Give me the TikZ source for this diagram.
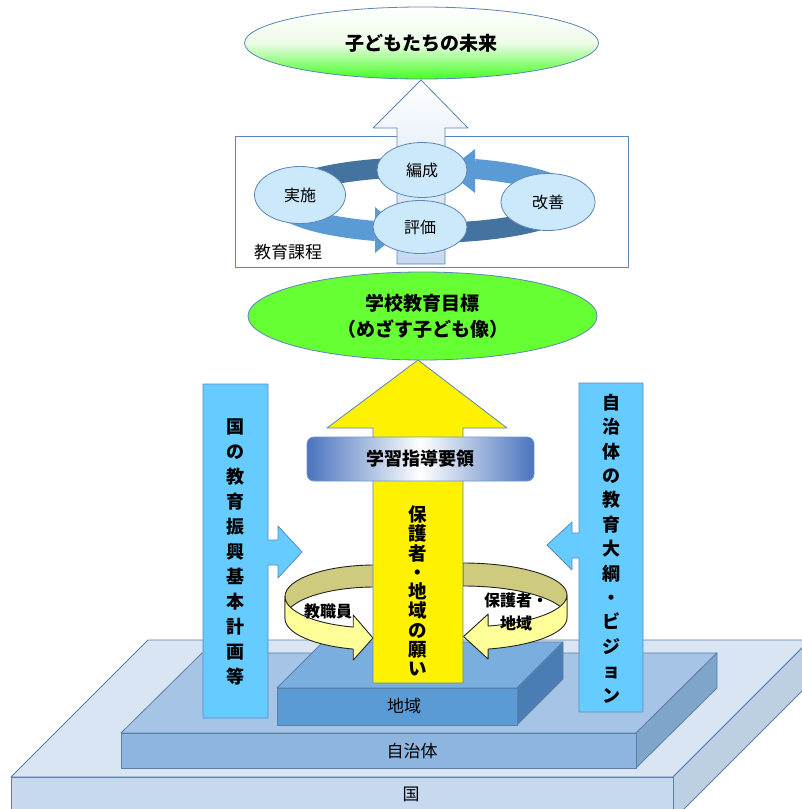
\documentclass[tikz,border=0pt]{standalone}
\usepackage{fontspec}
\setmainfont{Noto Sans CJK JP}
\usetikzlibrary{shapes.geometric}

\definecolor{edgeblue}{HTML}{5B85B8}
\definecolor{cyclefill}{HTML}{CCE8FB}
\definecolor{ringLight}{HTML}{5B9BD5}
\definecolor{ringDark}{HTML}{44739F}
\definecolor{shaftBlue}{HTML}{C5D9F1}
\definecolor{futureGreen}{HTML}{44FF22}
\definecolor{futureMid}{HTML}{EEFBE8}
\definecolor{goalGreen}{HTML}{66FF33}
\definecolor{sideBlue}{HTML}{66CCFF}
\definecolor{sideLine}{HTML}{5A8AC6}
\definecolor{guideBlue}{HTML}{4A74BE}
\definecolor{guideLine}{HTML}{7195CB}
\definecolor{ribBack}{HTML}{CFCB7E}
\definecolor{ribFront}{HTML}{FFFF99}
\definecolor{ribLine}{HTML}{222222}
\definecolor{kuniTop}{HTML}{D9E5F3}
\definecolor{kuniFront}{HTML}{C6D9EF}
\definecolor{kuniSide}{HTML}{BDCFE2}
\definecolor{jichiTop}{HTML}{A6C4E5}
\definecolor{jichiFront}{HTML}{8DB5DF}
\definecolor{jichiSide}{HTML}{7FA5CA}
\definecolor{chiikiTop}{HTML}{7AAEDF}
\definecolor{chiikiFront}{HTML}{5B9BD5}
\definecolor{chiikiSide}{HTML}{4A7DB3}
\definecolor{slabLine}{HTML}{5A7FA8}

\begin{document}
\begin{tikzpicture}[x=1pt,y=-1pt,line join=round,
  bord/.style={draw=edgeblue,line width=0.8pt},
  slab/.style={draw=slabLine,line width=0.8pt},
  rib/.style={draw=ribLine,line width=0.9pt},
  band/.style={line width=20pt},
  cyc/.style={ellipse,draw=edgeblue,line width=0.8pt,fill=cyclefill,inner sep=0pt,
              font=\fontsize{16}{16}\selectfont},
  lbl/.style={inner sep=0pt,font=\fontsize{17}{17}\selectfont},
  vtext/.style={align=center,inner sep=0pt,font=\bfseries\fontsize{18}{25}\selectfont}]
\useasboundingbox (0,0) rectangle (802,809);
\clip (0,0) rectangle (802,809);
\fill[white] (0,0) rectangle (802,809);

% --- stacked slabs: nation, municipality, community
\filldraw[slab,fill=kuniTop] (11,777) -- (148,640) -- (810,640) -- (673,777) -- cycle;
\filldraw[slab,fill=kuniSide] (673,777) -- (810,640) -- (810,683) -- (673,820) -- cycle;
\filldraw[slab,fill=kuniFront] (11,777) rectangle (673,820);
\node[lbl] (kuni) at (411,794) {国};

\filldraw[slab,fill=jichiTop] (121,733) -- (202,653) -- (717,653) -- (636,733) -- cycle;
\filldraw[slab,fill=jichiSide] (636,733) -- (717,653) -- (717,688) -- (636,768) -- cycle;
\filldraw[slab,fill=jichiFront] (121,733) rectangle (636,768);
\node[lbl] (jichi) at (412,751) {自治体};

\filldraw[slab,fill=chiikiTop] (277,688) -- (323,642) -- (563,642) -- (517,688) -- cycle;
\filldraw[slab,fill=chiikiSide] (517,688) -- (563,642) -- (563,679) -- (517,725) -- cycle;
\filldraw[slab,fill=chiikiFront] (277,688) rectangle (517,725);
\node[lbl] (chiiki) at (404,706) {地域};

% --- top goal
\node[ellipse,bord,minimum width=354,minimum height=72,
      top color=white,bottom color=futureGreen,middle color=futureMid,
      font=\bfseries\fontsize{19}{19}\selectfont] (future) at (421.5,43) {子どもたちの未来};

% --- curriculum box and the arrow through it
\draw[bord] (235,136) rectangle (628,267);
\path[bord,top color=white,bottom color=shaftBlue]
  (421,80) -- (468,128) -- (445,128) -- (445,264) -- (397,264) -- (397,128) -- (373,128) -- cycle;

% --- PDCA ring
\begin{scope}[shift={(425,200)}]
  \draw[band,draw=ringDark] (-95:145 and 33) arc[start angle=-95,end angle=-170,x radius=145,y radius=33];
  \draw[band,draw=ringDark] (80:145 and 33) arc[start angle=80,end angle=15,x radius=145,y radius=33];
  \draw[band,draw=ringLight] (160:145 and 33) arc[start angle=160,end angle=110,x radius=145,y radius=33];
  \draw[band,draw=ringLight] (-20:145 and 33) arc[start angle=-20,end angle=-70,x radius=145,y radius=33];
\end{scope}
\fill[ringLight] (375,207) -- (403,230) -- (375,253) -- cycle;
\fill[ringLight] (475,149) -- (447,171) -- (475,193) -- cycle;

\node[cyc,minimum width=91,minimum height=57] (jisshi) at (300,195) {実施};
\node[cyc,minimum width=90,minimum height=55] (hensei) at (422,170) {編成};
\node[cyc,minimum width=94,minimum height=53] (hyouka) at (420,227) {評価};
\node[cyc,minimum width=94,minimum height=57] (kaizen) at (548,202) {改善};
\node[lbl] (course) at (288,252) {教育課程};

% --- school goal
\node[ellipse,bord,fill=goalGreen,minimum width=349,minimum height=88,align=center,
      font=\bfseries\fontsize{19}{26}\selectfont] (goal) at (422.5,316)
      {学校教育目標\\（めざす子ども像）};

% --- side block arrows
\filldraw[draw=sideLine,line width=0.8pt,fill=sideBlue]
  (203,384) -- (268,384) -- (268,540) -- (278,540) -- (278,526) -- (302,552)
  -- (278,578) -- (278,565) -- (268,565) -- (268,718) -- (203,718) -- cycle;
\node[vtext] (national) at (235,552)
  {国\\の\\教\\育\\振\\興\\基\\本\\計\\画\\等};

\filldraw[draw=sideLine,line width=0.8pt,fill=sideBlue]
  (579,383) -- (643,383) -- (643,712) -- (579,712) -- (579,558) -- (572,558)
  -- (572,570) -- (547,545) -- (572,522) -- (572,533) -- (579,533) -- cycle;
\node[vtext,font=\bfseries\fontsize{18}{24.4}\selectfont] (local) at (611,548.5)
  {自\\治\\体\\の\\教\\育\\大\\綱\\・\\ビ\\ジ\\ョ\\ン};

% --- curled arrows around the central shaft
\begin{scope}[shift={(375,596.5)}]
  \filldraw[rib,fill=ribBack] (-90:90 and 31.5)
    arc[start angle=-90,end angle=-180,x radius=90,y radius=31.5] -- ++(0,22)
    arc[start angle=-180,end angle=-90,x radius=90,y radius=31.5] -- cycle;
  \filldraw[rib,fill=ribFront] (180:90 and 31.5)
    arc[start angle=180,end angle=104,x radius=90,y radius=31.5] -- ++(0,-12)
    -- (-2,41.5) -- (-21.77,63.56) -- ++(0,-11)
    arc[start angle=104,end angle=180,x radius=90,y radius=31.5] -- cycle;
\end{scope}
\begin{scope}[shift={(463,595)}]
  \filldraw[rib,fill=ribBack] (-90:104 and 32)
    arc[start angle=-90,end angle=0,x radius=104,y radius=32] -- ++(0,23)
    arc[start angle=0,end angle=-90,x radius=104,y radius=32] -- cycle;
  \filldraw[rib,fill=ribFront] (0:104 and 32)
    arc[start angle=0,end angle=76,x radius=104,y radius=32] -- ++(0,-12)
    -- (0.5,41.5) -- (25.16,64.05) -- ++(0,-10)
    arc[start angle=76,end angle=0,x radius=104,y radius=32] -- cycle;
\end{scope}
\node[font=\bfseries\fontsize{16}{16}\selectfont,inner sep=0pt] (staff) at (328,611) {教職員};
\node[align=center,inner sep=0pt,font=\bfseries\fontsize{16}{23}\selectfont] (parents) at (516,612)
  {保護者・\\地域};

% --- central yellow arrow
\filldraw[draw=edgeblue,line width=0.8pt,fill=yellow]
  (418,360) -- (507,428) -- (463,428) -- (463,683) -- (373,683) -- (373,428) -- (327,428) -- cycle;
\node[vtext,font=\bfseries\fontsize{18.5}{19.25}\selectfont] (wish) at (418,591)
  {保\\護\\者\\・\\地\\域\\の\\願\\い};

\node[draw=guideLine,line width=0.8pt,rounded corners=7,minimum width=227,minimum height=44,
      left color=guideBlue,right color=guideBlue,middle color=white,
      font=\bfseries\fontsize{18}{18}\selectfont] (guide) at (420.5,459) {学習指導要領};
\end{tikzpicture}
\end{document}
